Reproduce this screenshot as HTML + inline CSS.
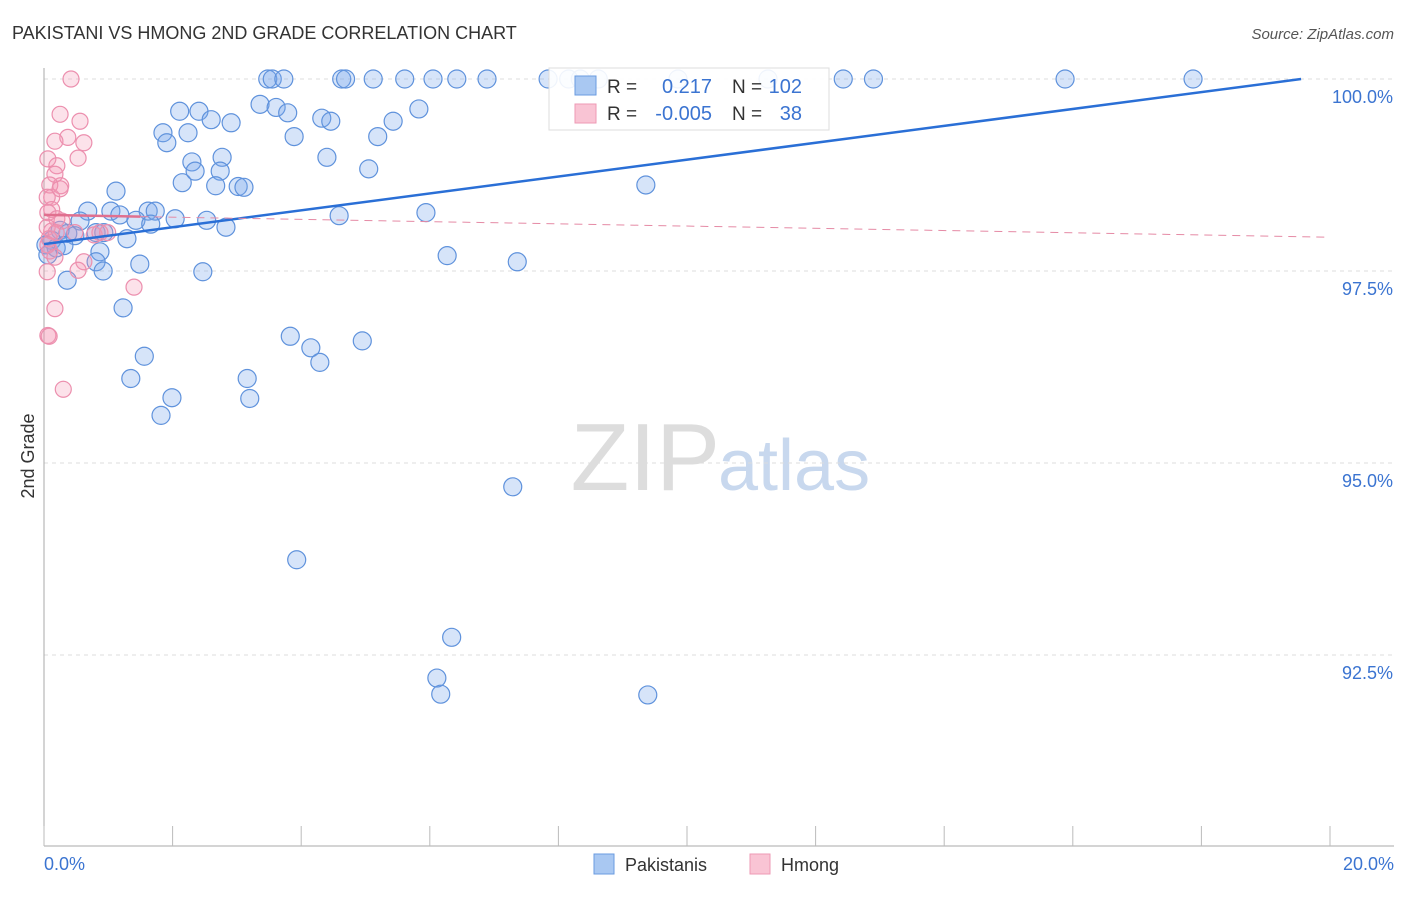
<!DOCTYPE html>
<html><head><meta charset="utf-8"><style>
body{margin:0;background:#fff;font-family:"Liberation Sans",sans-serif;}
svg text{font-family:"Liberation Sans",sans-serif;}
</style></head><body>
<svg id="chart" width="1406" height="892" xmlns="http://www.w3.org/2000/svg">
<text x="12" y="39" font-size="18" fill="#333">PAKISTANI VS HMONG 2ND GRADE CORRELATION CHART</text>
<text x="1394" y="39" font-size="15" fill="#555" text-anchor="end" font-style="italic">Source: ZipAtlas.com</text>
<text x="720" y="490" font-size="96" fill="#ddd" text-anchor="end" font-family="Liberation Serif">ZIP</text>
<text x="718" y="490" font-size="72" fill="#c8d8ee">atlas</text>
<text x="34" y="456" font-size="18" fill="#333" transform="rotate(-90 34 456)" text-anchor="middle">2nd Grade</text>
<g id="grid"></g><g id="axes"></g><g id="pts"></g><g id="trend"></g>
<g>
<rect x="549" y="68" width="280" height="62" fill="#fff" fill-opacity="0.9" stroke="#ddd"/>
<rect x="575" y="76" width="21" height="19" fill="#a9c8f2" stroke="#6a9be0"/>
<rect x="575" y="104" width="21" height="19" fill="#f9c4d4" stroke="#ee9ab4"/>
<text x="607" y="93" font-size="19" fill="#333">R =</text>
<text x="712" y="93" font-size="20" fill="#3b74d1" text-anchor="end">0.217</text>
<text x="732" y="93" font-size="19" fill="#333">N =</text>
<text x="802" y="93" font-size="20" fill="#3b74d1" text-anchor="end">102</text>
<text x="607" y="120" font-size="19" fill="#333">R =</text>
<text x="712" y="120" font-size="20" fill="#3b74d1" text-anchor="end">-0.005</text>
<text x="732" y="120" font-size="19" fill="#333">N =</text>
<text x="802" y="120" font-size="20" fill="#3b74d1" text-anchor="end">38</text>
</g>
<g>
<rect x="594" y="854" width="20" height="20" fill="#a9c8f2" stroke="#6a9be0"/>
<text x="625" y="871" font-size="18" fill="#333">Pakistanis</text>
<rect x="750" y="854" width="20" height="20" fill="#f9c4d4" stroke="#ee9ab4"/>
<text x="781" y="871" font-size="18" fill="#333">Hmong</text>
</g>
</svg>
<script>
const pakX=[3.48,3.55,3.73,4.63,4.69,5.12,5.61,6.05,6.42,6.89,7.84,8.16,8.34,8.62,9.86,11.26,12.43,12.9,15.88,17.87,2.11,2.41,3.36,3.61,3.79,4.32,4.46,5.83,5.43,2.6,2.91,1.85,2.24,1.91,3.89,5.19,2.3,2.77,4.4,2.35,2.74,5.05,2.15,2.67,3.02,3.11,9.36,1.12,0.68,1.04,1.18,1.62,1.73,1.43,1.66,2.04,2.53,2.83,4.59,5.94,0.56,0.25,0.37,0.48,0.12,0.81,0.93,1.29,0.87,0.03,0.19,0.06,0.31,0.81,1.49,0.92,2.47,6.27,7.36,0.36,1.23,3.83,4.15,4.29,4.95,1.56,1.35,3.16,1.99,3.2,1.82,7.29,3.93,6.34,6.11,9.39,6.17];
const pakY=[100,100,100,100,100,100,100,100,100,100,100,100,100,100,100,100,100,100,100,100,99.58,99.58,99.67,99.63,99.56,99.49,99.45,99.61,99.45,99.47,99.43,99.3,99.3,99.17,99.25,99.25,98.92,98.98,98.98,98.8,98.8,98.83,98.65,98.61,98.6,98.59,98.62,98.54,98.28,98.28,98.23,98.28,98.28,98.16,98.11,98.18,98.16,98.07,98.22,98.26,98.15,98.03,97.99,97.96,97.9,98.0,98.0,97.92,97.75,97.84,97.8,97.71,97.83,97.62,97.59,97.5,97.49,97.7,97.62,97.38,97.02,96.65,96.5,96.31,96.59,96.39,96.1,96.1,95.85,95.84,95.62,94.69,93.74,92.73,92.2,91.98,91.99];
const hmX=[0.42,0.25,0.56,0.37,0.17,0.62,0.53,0.06,0.2,0.17,0.26,0.09,0.12,0.05,0.12,0.06,0.2,0.28,0.05,0.12,0.08,0.19,0.06,0.09,0.17,0.48,0.78,0.87,0.99,0.62,0.53,0.05,1.4,0.17,0.06,0.08,0.3,0.25];
const hmY=[100,99.54,99.45,99.24,99.19,99.17,98.97,98.96,98.87,98.76,98.61,98.62,98.46,98.46,98.3,98.26,98.18,98.15,98.07,98.02,97.92,98.0,97.84,97.76,97.68,98.0,97.97,98.0,98.0,97.62,97.51,97.49,97.29,97.01,96.66,96.65,95.96,98.57];
const pakTrend=[[0,97.85],[19.55,100]];
const hmTrend=[[0,98.23],[20,97.94]];
const yTicks=[100,97.5,95,92.5];
const yTickLabels=["100.0%","97.5%","95.0%","92.5%"];
const xTicks=[0,2,4,6,8,10,12,14,16,18,20];
const NS="http://www.w3.org/2000/svg";
const X=v=>44+v*64.3;
const Y=v=>79+(100-v)*76.8;
function mk(tag,attrs,parent){const e=document.createElementNS(NS,tag);for(const k in attrs)e.setAttribute(k,attrs[k]);document.getElementById(parent).appendChild(e);return e;}
yTicks.forEach((t,i)=>{
 const l=mk('line',{x1:44,x2:1394,y1:Y(t),y2:Y(t),stroke:'#ddd','stroke-dasharray':'4,4'},'grid');
 
 
 const tx=mk('text',{x:1393,y:Y(t)+24,'font-size':18,fill:'#3b74d1','text-anchor':'end'},'axes');
 tx.textContent=yTickLabels[i];
 
 
});
const ax=mk('line',{x1:44,x2:44,y1:68,y2:846,stroke:'#aaa'},'axes');


const bx=mk('line',{x1:44,x2:1394,y1:846,y2:846,stroke:'#aaa'},'axes');


xTicks.forEach(t=>{
 const l=mk('line',{x1:X(t),x2:X(t),y1:826,y2:846,stroke:'#bbb'},'axes');
 
 
});
const xl0=mk('text',{x:44,y:870,'font-size':18,fill:'#3b74d1'},'axes');xl0.textContent=xTicks[0].toFixed(1)+'%';


const xl1=mk('text',{x:1394,y:870,'font-size':18,fill:'#3b74d1','text-anchor':'end'},'axes');xl1.textContent=xTicks[xTicks.length-1].toFixed(1)+'%';


pakX.forEach((v,i)=>{
 const c=mk('circle',{cx:X(v),cy:Y(pakY[i]),r:9,fill:'rgba(120,165,235,0.3)',stroke:'#5f92dc','stroke-width':1.2},'pts');
 
 
});
hmX.forEach((v,i)=>{
 const c=mk('circle',{cx:X(v),cy:Y(hmY[i]),r:8,fill:'rgba(245,150,180,0.28)',stroke:'#ec8fae','stroke-width':1.2},'pts');
 
 
});
const pt=mk('line',{x1:X(pakTrend[0][0]),y1:Y(pakTrend[0][1]),x2:X(pakTrend[1][0]),y2:Y(pakTrend[1][1]),stroke:'#2a6fd6','stroke-width':2.5},'trend');


const hx=1.5,hy=hmTrend[0][1]+(hmTrend[1][1]-hmTrend[0][1])*hx/20;
const ht1=mk('line',{x1:X(hmTrend[0][0]),y1:Y(hmTrend[0][1]),x2:X(hx),y2:Y(hy),stroke:'#e0708f','stroke-width':2.5},'trend');


const ht2=mk('line',{x1:X(hx),y1:Y(hy),x2:X(hmTrend[1][0]),y2:Y(hmTrend[1][1]),stroke:'#e58aa5','stroke-width':1,'stroke-dasharray':'8,6'},'trend');


</script>
</body></html>
